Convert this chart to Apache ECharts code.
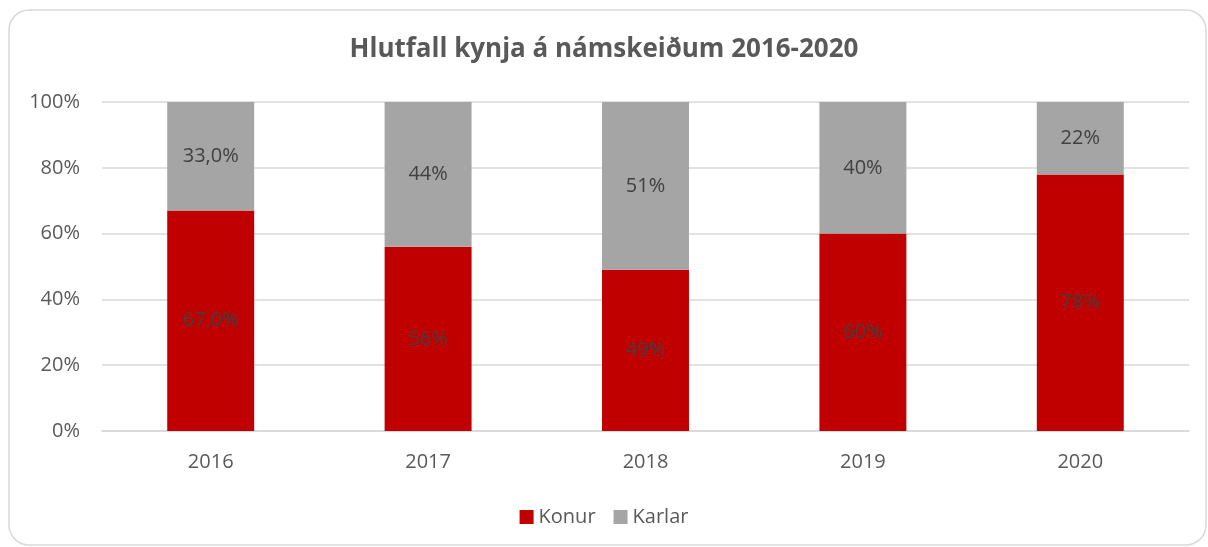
<!DOCTYPE html>
<html lang="is">
<head>
    <meta charset="UTF-8">
    <title>Hlutfall kynja</title>
    <script src="https://cdn.jsdelivr.net/npm/echarts@6/dist/echarts.min.js"></script>
    <style>
        html, body { margin: 0; padding: 0; background: #fff; }
        #chart { width: 1208px; height: 547px; }
    </style>
</head>
<body>
<div id="chart"></div>
<script>
    var years = ['2016', '2017', '2018', '2019', '2020'];
    var konur = [67.0, 56, 49, 60, 78];
    var karlar = [33.0, 44, 51, 40, 22];
    var konurLabels = ['67,0%', '56%', '49%', '60%', '78%'];
    var karlarLabels = ['33,0%', '44%', '51%', '40%', '22%'];

    var font = '"Open Sans", "Noto Sans", sans-serif';

    var chart = echarts.init(document.getElementById('chart'));
    chart.setOption({
        animation: false,
        textStyle: { fontFamily: font },
        graphic: [{
            type: 'rect',
            shape: { x: 9, y: 10, width: 1197, height: 535, r: 20 },
            style: { fill: 'none', stroke: '#d9d9d9', lineWidth: 1.5 },
            silent: true
        }],
        title: {
            text: 'Hlutfall kynja á námskeiðum 2016-2020',
            left: 'center',
            top: 32,
            textStyle: { fontFamily: font, fontSize: 26, fontWeight: 'bold', color: '#595959' }
        },
        legend: {
            bottom: 15,
            left: 'center',
            itemWidth: 14,
            itemHeight: 14,
            itemGap: 18,
            icon: 'rect',
            textStyle: { fontFamily: font, fontSize: 20, color: '#595959' },
            data: ['Konur', 'Karlar']
        },
        grid: { left: 102, right: 19, top: 102, bottom: 116, containLabel: false },
        xAxis: {
            type: 'category',
            data: years,
            axisLine: { lineStyle: { color: '#d9d9d9', width: 1.5 } },
            axisTick: { show: false },
            axisLabel: { margin: 21, fontSize: 20, color: '#595959', fontFamily: font }
        },
        yAxis: {
            type: 'value',
            min: 0, max: 100, interval: 20,
            axisLine: { show: false },
            axisTick: { show: false },
            axisLabel: { margin: 22, fontSize: 20, color: '#595959', fontFamily: font,
                formatter: '{value}%' },
            splitLine: { lineStyle: { color: '#d9d9d9', width: 1.5 } }
        },
        series: [{
            name: 'Konur',
            type: 'bar',
            stack: 'total',
            barWidth: '40%',
            itemStyle: { color: '#c00000' },
            label: {
                show: true, position: 'inside', fontSize: 20, color: '#404040', fontFamily: font,
                formatter: function (p) { return konurLabels[p.dataIndex]; }
            },
            data: konur
        }, {
            name: 'Karlar',
            type: 'bar',
            stack: 'total',
            barWidth: '40%',
            itemStyle: { color: '#a5a5a5' },
            label: {
                show: true, position: 'inside', fontSize: 20, color: '#404040', fontFamily: font,
                formatter: function (p) { return karlarLabels[p.dataIndex]; }
            },
            data: karlar
        }]
    });
</script>
</body>
</html>
